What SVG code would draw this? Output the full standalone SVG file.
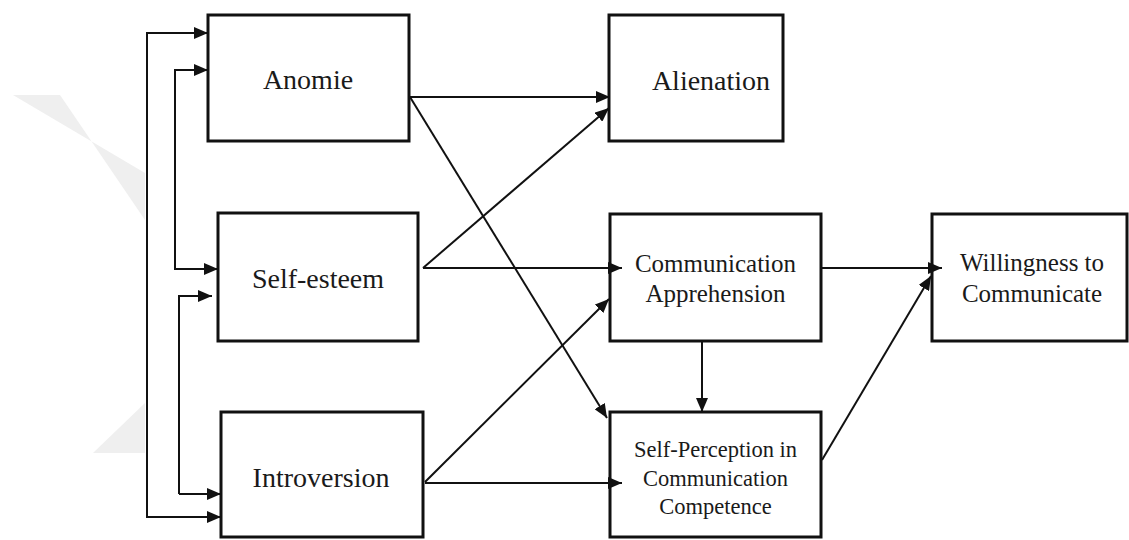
<svg xmlns="http://www.w3.org/2000/svg" width="1129" height="540" viewBox="0 0 1129 540">
<style>
.box{fill:#fff;stroke:#111;stroke-width:3}
.lbl{font-family:"Liberation Serif","Times New Roman",serif;fill:#1a1a1a;text-anchor:middle}
.big{font-size:28px}
.mid{font-size:25px}
.sm{font-size:22.5px}
.ln{fill:none;stroke:#111;stroke-width:2;marker-end:url(#ah)}
</style>
<defs>
<marker id="ah" markerUnits="userSpaceOnUse" markerWidth="14" markerHeight="12" refX="14" refY="6" orient="auto">
<path d="M0,0 L14,6 L0,12 z" fill="#111"/>
</marker>
</defs>
<rect width="1129" height="540" fill="#fff"/>
<g id="watermark" fill="#efefef">
<polygon points="13,95 60,95 145,220 145,173"/>
<polygon points="93,453 145,453 145,403"/>
</g>
<g id="anomie">
<rect class="box" x="208" y="15" width="201" height="126"/>
<text class="lbl big" x="308" y="89">Anomie</text>
</g>
<g id="self-esteem">
<rect class="box" x="218" y="213" width="200" height="128"/>
<text class="lbl big" x="318" y="288">Self-esteem</text>
</g>
<g id="introversion">
<rect class="box" x="221" y="412" width="202" height="125"/>
<text class="lbl big" x="321" y="487">Introversion</text>
</g>
<g id="alienation">
<rect class="box" x="609" y="15" width="174" height="126"/>
<text class="lbl big" x="711" y="90">Alienation</text>
</g>
<g id="communication-apprehension">
<rect class="box" x="610" y="214" width="211" height="127"/>
<text class="lbl mid" x="715.5" y="272">Communication</text>
<text class="lbl mid" x="715.5" y="302">Apprehension</text>
</g>
<g id="self-perception">
<rect class="box" x="610" y="412" width="211" height="125"/>
<text class="lbl sm" x="715.5" y="457">Self-Perception in</text>
<text class="lbl sm" x="715.5" y="486">Communication</text>
<text class="lbl sm" x="715.5" y="514">Competence</text>
</g>
<g id="willingness">
<rect class="box" x="932" y="214" width="195" height="127"/>
<text class="lbl mid" x="1032" y="271">Willingness to</text>
<text class="lbl mid" x="1032" y="302">Communicate</text>
</g>
<g id="connectors">
<path class="ln" d="M208,33 H147 V517 H221"/>
<path class="ln" d="M147,33 H208"/>
<path class="ln" d="M208,70 H175 V269 H218"/>
<path class="ln" d="M175,70 H208"/>
<path class="ln" d="M179,494 V296 H212"/>
<path class="ln" d="M179,494 H221"/>
<path class="ln" d="M410,97 H610"/>
<path class="ln" d="M410,97 L607,418"/>
<path class="ln" d="M423,268 L609,108"/>
<path class="ln" d="M423,268 H622"/>
<path class="ln" d="M425,482 L609,299"/>
<path class="ln" d="M425,483 H622"/>
<path class="ln" d="M702,341 V412"/>
<path class="ln" d="M821,268 H942"/>
<path class="ln" d="M822,460 L931,276"/>
</g>
</svg>
